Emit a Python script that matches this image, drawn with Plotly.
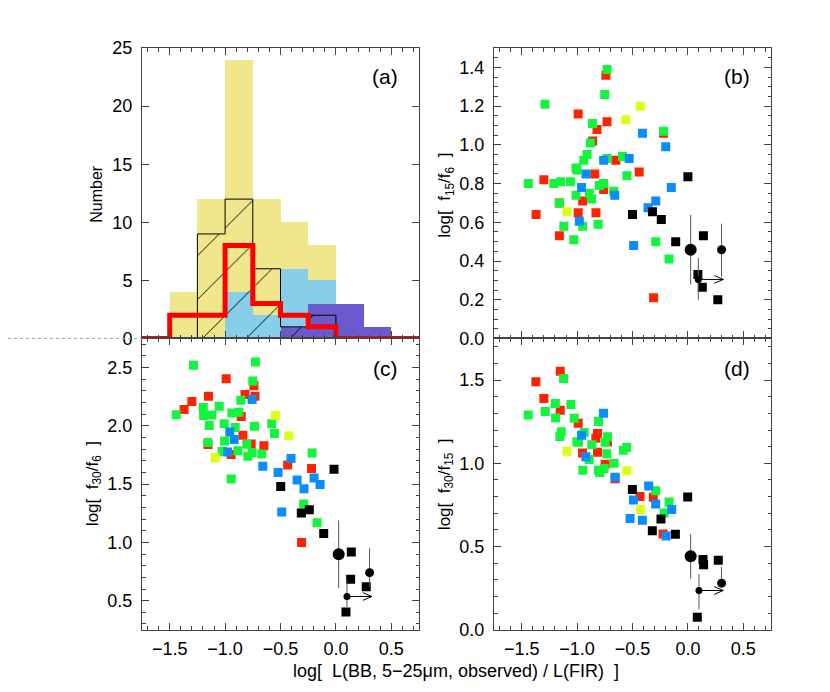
import plotly.graph_objects as go

W, H = 830, 692

# colours
RED = "#FF2200"
GREEN = "#12F53C"
YELLOW = "#DDFF11"
BLUE = "#0A8CFF"
KHAKI = "#F0E68C"
SKY = "#87CEEB"
SLATE = "#6A5ACD"
AXIS = "#444444"
ERR = "#555555"

# ---------------- panel (a): histograms ----------------
hist_edges = [-1.75, -1.5, -1.25, -1.0, -0.75, -0.5, -0.25, 0.0, 0.25, 0.5, 0.75]
yellow_counts = [0, 4, 12, 24, 12, 10, 8, 3, 0, 0]
sky_counts = [0, 0, 0, 4, 2, 6, 5, 0, 0, 0]
slate_counts = [0, 0, 0, 0, 0, 1, 3, 3, 1, 0]
hatch_counts = [0, 0, 9, 12, 6, 1, 2, 0, 0, 0]
red_counts = [0, 2, 2, 8, 3, 2, 1, 0, 0, 0]

# ---------------- panel (b): log(f15/f6) ----------------
b_red_x = [-0.74, -0.99, -0.73, -0.82, -0.86, -0.65, -0.84, -1.30, -1.37, -1.16, -0.95, -0.99, -0.83, -1.16, -0.44, -0.22, -0.31, -0.76]
b_red_y = [1.36, 1.16, 1.12, 1.08, 1.02, 0.92, 0.85, 0.82, 0.64, 0.70, 0.71, 0.65, 0.65, 0.53, 0.86, 1.06, 0.21, 0.77]
b_green_x = [-0.73, -0.75, -1.29, -0.86, -0.88, -0.91, -0.94, -0.73, -0.59, -1.01, -1.00, -1.44, -1.21, -1.15, -1.06, -0.80,
             -0.76, -1.01, -0.89, -0.87, -0.67, -0.55, -1.16, -1.12, -0.95, -0.81, -1.03, -0.22, -0.29, -0.17]
b_green_y = [1.39, 1.26, 1.21, 1.11, 1.01, 0.95, 0.92, 0.93, 0.94, 0.88, 0.87, 0.80, 0.80, 0.81, 0.81, 0.79,
             0.80, 0.74, 0.75, 0.72, 0.76, 0.84, 0.70, 0.58, 0.58, 0.59, 0.51, 1.07, 0.50, 0.41]
b_yellow_x = [-0.56, -0.43, -1.09]
b_yellow_y = [1.13, 1.20, 0.655]
b_blue_x = [-0.76, -0.53, -0.92, -0.96, -0.98, -0.66, -0.41, -0.20, -0.15, -0.29, -0.36, -0.49]
b_blue_y = [0.92, 0.93, 0.85, 0.78, 0.605, 0.74, 1.06, 0.99, 0.78, 0.71, 0.675, 0.48]
b_black_x = [0.00, -0.50, -0.32, -0.24, -0.11, 0.14, 0.09, 0.13, 0.27]
b_black_y = [0.835, 0.64, 0.655, 0.615, 0.50, 0.53, 0.33, 0.265, 0.20]
# circles: big, small right, small with arrow
b_circ_x = [0.025, 0.304, 0.094]
b_circ_y = [0.458, 0.458, 0.305]
b_err_plus = [0.18, 0.135, 0.11]
b_err_minus = [0.18, 0.14, 0.105]
b_arrow_to = 0.32

# ---------------- panel (c): log(f30/f6) ----------------
c_red_x = [-0.99, -1.15, -1.30, -1.37, -0.74, -0.82, -0.73, -0.855, -0.84, -0.765, -0.65, -1.155, -0.945, -0.435, -0.22, -0.31]
c_red_y = [2.405, 2.255, 2.21, 2.14, 2.345, 2.27, 2.255, 2.08, 1.92, 1.845, 1.83, 1.84, 1.755, 1.665, 1.635, 1.00]
c_green_x = [-1.285, -0.726, -0.75, -0.858, -1.441, -1.197, -1.194, -1.119, -1.053, -1.143, -0.939, -0.876, -1.008, -0.909, -0.735,
             -0.579, -0.555, -1.155, -1.005, -1.026, -0.885, -0.804, -0.756, -0.795, -0.669, -0.945, -0.215, -0.291, -0.17]
c_green_y = [2.52, 2.547, 2.386, 2.219, 2.096, 2.157, 2.088, 2.093, 2.169, 2.004, 2.11, 2.116, 2.018, 1.985, 1.996,
             2.018, 1.935, 1.857, 1.87, 1.781, 1.787, 1.843, 1.77, 1.74, 1.759, 1.545, 1.767, 1.33, 1.169]
c_yellow_x = [-1.09, -0.546, -0.426]
c_yellow_y = [1.726, 2.088, 1.915]
c_blue_x = [-0.756, -0.957, -0.918, -0.978, -0.66, -0.405, -0.522, -0.35, -0.197, -0.143, -0.288, -0.489]
c_blue_y = [2.227, 1.948, 1.884, 1.776, 1.653, 1.72, 1.60, 1.536, 1.553, 1.497, 1.461, 1.26]
c_black_x = [-0.017, -0.498, -0.24, -0.312, -0.11, 0.139, 0.133, 0.274, 0.091]
c_black_y = [1.628, 1.48, 1.28, 1.252, 1.077, 0.918, 0.684, 0.62, 0.403]
c_circ_x = [0.025, 0.304, 0.10]
c_circ_y = [0.898, 0.74, 0.536]
c_err_plus = [0.29, 0.21, 0.145]
c_err_minus = [0.29, 0.12, 0.09]
c_arrow_to = 0.325

# ---------------- panel (d): log(f30/f15) ----------------
d_red_x = [-1.152, -1.372, -1.30, -1.152, -0.99, -0.816, -0.831, -0.726, -0.951, -0.816, -0.747, -0.657, -0.432, -0.312, -0.224]
d_red_y = [1.553, 1.49, 1.389, 1.319, 1.241, 1.179, 1.15, 1.13, 1.062, 1.066, 0.994, 0.907, 0.80, 0.796, 0.576]
d_green_x = [-1.122, -1.197, -1.056, -1.288, -1.441, -1.194, -1.026, -0.807, -1.143, -1.155, -1.002, -0.936, -0.726, -0.867,
             -0.747, -0.732, -0.891, -0.948, -0.807, -0.795, -0.756, -0.666, -0.582, -0.552, -0.987, -0.291, -0.17, -0.215]
d_green_y = [1.51, 1.36, 1.354, 1.311, 1.29, 1.272, 1.27, 1.251, 1.189, 1.161, 1.13, 1.185, 1.16, 1.111,
             1.126, 1.058, 1.023, 0.959, 0.959, 0.945, 0.969, 1.00, 1.078, 1.095, 1.126, 0.835, 0.767, 0.702]
d_yellow_x = [-1.092, -0.552, -0.426]
d_yellow_y = [1.072, 0.955, 0.722]
d_blue_x = [-0.762, -0.96, -0.921, -0.657, -0.492, -0.354, -0.291, -0.146, -0.522, -0.411, -0.197]
d_blue_y = [1.30, 1.169, 1.039, 0.916, 0.78, 0.864, 0.755, 0.722, 0.669, 0.658, 0.564]
d_black_x = [-0.501, -0.243, -0.321, -0.113, -0.002, 0.136, 0.142, 0.274, 0.085]
d_black_y = [0.842, 0.665, 0.595, 0.574, 0.798, 0.422, 0.391, 0.418, 0.076]
d_circ_x = [0.025, 0.304, 0.10]
d_circ_y = [0.442, 0.28, 0.236]
d_err_plus = [0.134, 0.096, 0.10]
d_err_minus = [0.135, 0.0, 0.113]
d_arrow_to = 0.319

X_RANGE = [-1.75, 0.75]

# panel boxes in pixels (left, right, top, bottom)
BOX = {
    "a": (134, 411, 31, 330),
    "b": (486, 763, 31, 330),
    "c": (134, 411, 330, 630),
    "d": (486, 763, 330, 630),
}
Y_RANGE = {"a": [0, 25], "b": [0, 1.5], "c": [0.25, 2.75], "d": [0, 1.75]}


def dom(p):
    l, r, t, b = BOX[p]
    return [l / W, r / W], [1 - b / H, 1 - t / H]


fig = go.Figure()

# ---- histogram panel ----
centers = [(hist_edges[i] + hist_edges[i + 1]) / 2 for i in range(len(hist_edges) - 1)]
for counts, col in [(yellow_counts, KHAKI), (sky_counts, SKY), (slate_counts, SLATE)]:
    fig.add_trace(go.Bar(x=centers, y=counts, width=0.25, marker=dict(color=col, line=dict(width=0)),
                         xaxis="x", yaxis="y", hoverinfo="skip"))

fig.add_trace(go.Bar(
    x=centers, y=hatch_counts, width=0.25, xaxis="x", yaxis="y",
    marker=dict(color="rgba(0,0,0,0)", line=dict(width=0),
                pattern=dict(shape="/", fgcolor="black", bgcolor="rgba(0,0,0,0)",
                             size=31, solidity=0.03, fillmode="replace")),
))
nz = [i for i, c in enumerate(hatch_counts) if c > 0]
f, l = nz[0], nz[-1]
hx = [hist_edges[f]] + hist_edges[f:l + 1] + [hist_edges[l + 1]]
hy = [0] + hatch_counts[f:l + 1] + [0]
fig.add_trace(go.Scatter(x=hx, y=hy, mode="lines", line=dict(color="black", width=1, shape="hv"),
                         xaxis="x", yaxis="y"))
fig.add_trace(go.Scatter(x=hist_edges, y=red_counts + [0], mode="lines",
                         line=dict(color="#FF0000", width=5, shape="hv"), xaxis="x", yaxis="y"))


def scatter_panel(p, ax, groups, circ_x, circ_y, ep, em, arrow_to):
    xa, ya = ("x" + ax, "y" + ax)
    for gx, gy, col in groups:
        fig.add_trace(go.Scatter(x=gx, y=gy, mode="markers", xaxis=xa, yaxis=ya,
                                 marker=dict(symbol="square", size=9, color=col, line=dict(width=0))))
    # circles with error bars
    fig.add_trace(go.Scatter(
        x=circ_x, y=circ_y, mode="markers", xaxis=xa, yaxis=ya,
        marker=dict(symbol="circle", size=[12, 9, 7], color="black", opacity=1, line=dict(width=0)),
        error_y=dict(type="data", array=ep, arrayminus=em, color=ERR, thickness=1, width=0),
    ))
    # arrow from the small circle (open chevron head)
    l, r, t, b = BOX[p]
    px_x = (r - l) / (X_RANGE[1] - X_RANGE[0])
    px_y = (b - t) / (Y_RANGE[p][1] - Y_RANGE[p][0])
    x0, y0 = circ_x[2], circ_y[2]
    hx_len, hy_len = 9 / px_x, 4 / px_y
    fig.add_trace(go.Scatter(
        x=[x0, arrow_to, None, arrow_to - hx_len, arrow_to, arrow_to - hx_len],
        y=[y0, y0, None, y0 + hy_len, y0, y0 - hy_len],
        mode="lines", line=dict(color="black", width=1), xaxis=xa, yaxis=ya,
    ))


scatter_panel("b", "2", [(b_red_x, b_red_y, RED), (b_green_x, b_green_y, GREEN), (b_yellow_x, b_yellow_y, YELLOW),
                         (b_blue_x, b_blue_y, BLUE), (b_black_x, b_black_y, "black")],
              b_circ_x, b_circ_y, b_err_plus, b_err_minus, b_arrow_to)
scatter_panel("c", "3", [(c_red_x, c_red_y, RED), (c_green_x, c_green_y, GREEN), (c_yellow_x, c_yellow_y, YELLOW),
                         (c_blue_x, c_blue_y, BLUE), (c_black_x, c_black_y, "black")],
              c_circ_x, c_circ_y, c_err_plus, c_err_minus, c_arrow_to)
scatter_panel("d", "4", [(d_red_x, d_red_y, RED), (d_green_x, d_green_y, GREEN), (d_yellow_x, d_yellow_y, YELLOW),
                         (d_blue_x, d_blue_y, BLUE), (d_black_x, d_black_y, "black")],
              d_circ_x, d_circ_y, d_err_plus, d_err_minus, d_arrow_to)


def base_axis(**kw):
    d = dict(showline=True, linecolor=AXIS, linewidth=1, mirror="ticks", ticks="inside", ticklen=7,
             tickcolor=AXIS, showgrid=False, zeroline=False, tickfont=dict(size=18, color="black"))
    d.update(kw)
    return d


def minor(step):
    return dict(ticks="inside", ticklen=3.5, dtick=step, tick0=0, tickcolor=AXIS, showgrid=False)


layout = dict(
    width=W, height=H, margin=dict(l=0, r=0, t=0, b=0),
    paper_bgcolor="white", plot_bgcolor="rgba(0,0,0,0)",
    font=dict(family="Liberation Sans, Arial, sans-serif", color="black"),
    showlegend=False, barmode="overlay", bargap=0,
)
names = {"a": "", "b": "2", "c": "3", "d": "4"}
for p, n in names.items():
    xd, yd = dom(p)
    layout["xaxis" + n] = base_axis(domain=xd, range=X_RANGE, anchor="y" + n, dtick=0.5, tick0=0,
                                    tickformat=".1f", minor=minor(0.1),
                                    showticklabels=p in ("c", "d"), ticklabelstandoff=3)
layout["yaxis"] = base_axis(domain=dom("a")[1], range=Y_RANGE["a"], anchor="x", dtick=5, tick0=0,
                            ticklabelstandoff=5)
layout["yaxis2"] = base_axis(domain=dom("b")[1], range=Y_RANGE["b"], anchor="x2", dtick=0.2, tick0=0,
                             tickformat=".1f", minor=minor(0.05), ticklabelstandoff=5)
layout["yaxis3"] = base_axis(domain=dom("c")[1], range=Y_RANGE["c"], anchor="x3", dtick=0.5, tick0=0,
                             tickformat=".1f", minor=minor(0.1), ticklabelstandoff=5)
layout["yaxis4"] = base_axis(domain=dom("d")[1], range=Y_RANGE["d"], anchor="x4", dtick=0.5, tick0=0,
                             tickformat=".1f", minor=minor(0.1), ticklabelstandoff=5)
fig.update_layout(**layout)


def note(text, px, py, size, angle=0):
    fig.add_annotation(text=text, x=px / W, y=1 - py / H, xref="paper", yref="paper", showarrow=False,
                       xanchor="center", yanchor="middle", textangle=angle, font=dict(size=size))


# panel labels
for lab, (px, py) in {"(a)": (377, 60), "(b)": (729, 60), "(c)": (377, 361), "(d)": (729, 361)}.items():
    note(lab, px, py, 21)

# axis titles
note("Number", 89, 181, 16, -90)
note("log[  f<sub>15</sub>/f<sub>6</sub>  ]", 438, 183, 17, -90)
note("log[  f<sub>30</sub>/f<sub>6</sub>  ]", 86, 480, 17, -90)
note("log[  f<sub>30</sub>/f<sub>15</sub>  ]", 438, 480, 17, -90)
note("log[  L(BB, 5\u221225\u03bcm, observed) / L(FIR)  ]", 448, 672, 18)

# faint baseline stub left of panel (a)
fig.add_shape(type="line", xref="paper", yref="paper", x0=0, x1=134 / W, y0=1 - 330 / H, y1=1 - 330 / H,
              line=dict(color="#A0A0E0", width=1, dash="dot"))

fig.write_html("out.html")
